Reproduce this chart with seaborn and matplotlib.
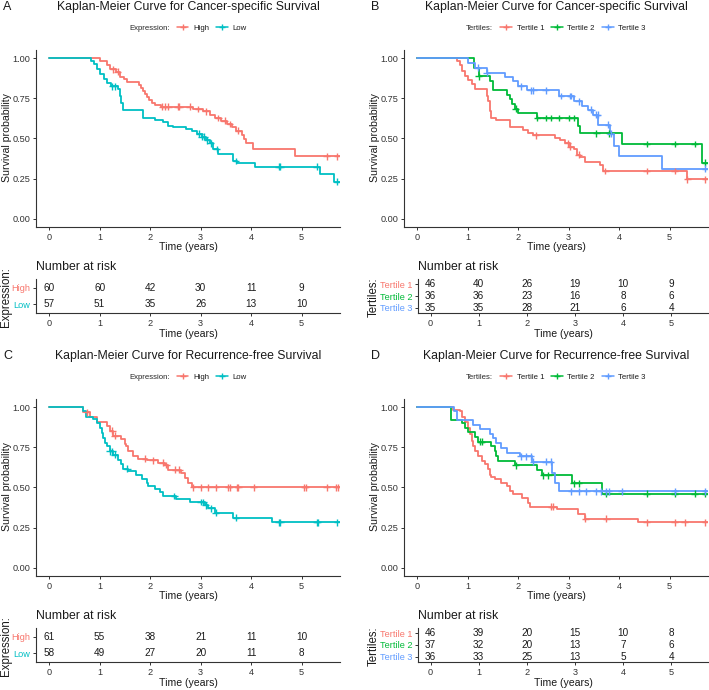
import numpy as np
import pandas as pd
import matplotlib
matplotlib.use("Agg")
import matplotlib.pyplot as plt
import seaborn as sns
from matplotlib.lines import Line2D

sns.set_style("ticks")
plt.rcParams["font.family"] = ["Liberation Sans", "DejaVu Sans"]

W, H = 709, 690
X_END = 5.76
risk_times = [0, 1, 2, 3, 4, 5]

expr_names = ["High", "Low"]
expr_colors = ["#F8766D", "#00BFC4"]
tert_names = ["Tertile 1", "Tertile 2", "Tertile 3"]
tert_colors = ["#F8766D", "#00BA38", "#619CFF"]

# ---- A: cancer-specific survival by expression (step times, survival after step, censor times)
a_high_t = [1.00, 1.14, 1.20, 1.32, 1.40, 1.48, 1.55, 1.78, 1.82, 1.86, 1.90, 1.94, 1.98, 2.04,
            2.10, 2.22, 2.85, 3.05, 3.18, 3.28, 3.40, 3.52, 3.62, 3.70, 3.82, 3.86, 3.89, 4.03, 4.87]
a_high_s = [0.983, 0.955, 0.93, 0.915, 0.885, 0.867, 0.85, 0.833, 0.813, 0.795, 0.775, 0.757, 0.738,
            0.72, 0.707, 0.697, 0.683, 0.668, 0.648, 0.628, 0.61, 0.59, 0.57, 0.548, 0.52, 0.495,
            0.47, 0.437, 0.39]
a_high_c = [1.27, 1.36, 2.24, 2.30, 2.36, 2.55, 2.58, 2.78, 2.95, 3.10, 3.35, 3.48, 3.58, 3.75,
            5.50, 5.70]
a_low_t = [0.82, 0.88, 0.94, 1.00, 1.08, 1.15, 1.22, 1.37, 1.40, 1.43, 1.47, 1.86, 2.09, 2.26,
           2.36, 2.46, 2.72, 2.82, 2.92, 3.02, 3.10, 3.18, 3.24, 3.35, 3.65, 3.72, 4.08, 5.36, 5.65]
a_low_s = [0.98, 0.963, 0.93, 0.90, 0.87, 0.845, 0.825, 0.805, 0.765, 0.72, 0.68, 0.63, 0.616,
           0.60, 0.58, 0.573, 0.56, 0.545, 0.53, 0.51, 0.49, 0.47, 0.435, 0.405, 0.36, 0.347,
           0.325, 0.277, 0.232]
a_low_c = [1.25, 1.30, 2.97, 3.02, 3.07, 3.13, 3.20, 3.32, 3.70, 4.55, 4.58, 5.30, 5.70]
a_risk = [[60, 60, 42, 30, 11, 9], [57, 51, 35, 26, 13, 10]]

# ---- B: cancer-specific survival by tertile
b_t1_t = [0.78, 0.85, 0.89, 0.95, 1.01, 1.08, 1.14, 1.38, 1.41, 1.44, 1.47, 1.57, 1.84, 2.10,
          2.20, 2.30, 2.73, 2.83, 2.93, 3.03, 3.10, 3.16, 3.22, 3.33, 3.62, 3.69, 5.34]
b_t1_s = [0.98, 0.955, 0.92, 0.887, 0.866, 0.836, 0.805, 0.764, 0.733, 0.67, 0.63, 0.615, 0.57,
          0.55, 0.535, 0.52, 0.505, 0.49, 0.47, 0.45, 0.435, 0.40, 0.384, 0.353, 0.333, 0.298,
          0.246]
b_t1_c = [2.35, 2.98, 3.03, 3.20, 3.73, 4.55, 5.10, 5.35, 5.70]
b_t2_t = [1.13, 1.22, 1.44, 1.51, 1.77, 1.84, 1.87, 1.94, 2.00, 2.37, 3.18, 3.23, 4.05, 5.64]
b_t2_s = [0.94, 0.886, 0.857, 0.80, 0.772, 0.743, 0.714, 0.686, 0.657, 0.627, 0.58, 0.533,
          0.466, 0.35]
b_t2_c = [1.22, 1.95, 2.38, 2.55, 2.65, 2.80, 3.00, 3.10, 3.55, 3.80, 4.55, 5.10, 5.50, 5.70]
b_t3_t = [1.01, 1.14, 1.38, 1.74, 1.90, 2.00, 2.17, 2.80, 3.10, 3.26, 3.39, 3.49, 3.59, 3.82,
          3.89, 3.99, 4.85]
b_t3_s = [0.97, 0.94, 0.91, 0.88, 0.856, 0.825, 0.80, 0.764, 0.73, 0.70, 0.68, 0.647, 0.585,
          0.53, 0.456, 0.39, 0.312]
b_t3_c = [1.20, 1.38, 2.05, 2.25, 2.30, 2.55, 2.85, 3.03, 3.05, 3.20, 3.45, 3.55, 3.58, 3.78,
          3.83, 5.70]
b_risk = [[46, 40, 26, 19, 10, 9], [36, 36, 23, 16, 8, 6], [35, 35, 28, 21, 6, 4]]

# ---- C: recurrence-free survival by expression
c_high_t = [0.67, 0.81, 0.94, 1.14, 1.20, 1.27, 1.43, 1.50, 1.53, 1.57, 1.66, 1.76, 1.93, 2.16,
            2.29, 2.36, 2.62, 2.69, 2.75, 2.82]
c_high_s = [0.967, 0.936, 0.905, 0.885, 0.853, 0.823, 0.80, 0.773, 0.757, 0.726, 0.695, 0.68,
            0.668, 0.654, 0.64, 0.61, 0.59, 0.56, 0.53, 0.50]
c_high_c = [0.75, 1.25, 1.30, 1.90, 2.05, 2.25, 2.32, 2.50, 2.58, 2.85, 3.00, 3.15, 3.30, 3.55,
            3.58, 3.72, 3.75, 4.05, 5.05, 5.08, 5.50, 5.68, 5.72]
c_low_t = [0.67, 0.74, 0.87, 0.94, 1.00, 1.04, 1.07, 1.10, 1.14, 1.20, 1.27, 1.37, 1.43, 1.47,
           1.57, 1.73, 1.83, 1.93, 1.96, 2.09, 2.19, 2.26, 2.52, 2.79, 3.08, 3.15, 3.28, 3.65, 4.41]
c_low_s = [0.973, 0.94, 0.926, 0.90, 0.87, 0.84, 0.81, 0.777, 0.757, 0.726, 0.705, 0.674, 0.643,
           0.617, 0.60, 0.58, 0.555, 0.53, 0.51, 0.49, 0.47, 0.447, 0.43, 0.41, 0.39, 0.37, 0.344,
           0.313, 0.283]
c_low_c = [1.20, 1.25, 1.30, 1.55, 2.48, 3.00, 3.05, 3.10, 3.20, 3.30, 3.70, 4.55, 4.58, 5.30,
           5.32, 5.70]
c_risk = [[61, 55, 38, 21, 11, 10], [58, 49, 27, 20, 11, 8]]

# ---- D: recurrence-free survival by tertile
d_t1_t = [0.71, 0.85, 0.88, 0.95, 1.01, 1.04, 1.08, 1.11, 1.14, 1.21, 1.28, 1.34, 1.41, 1.44,
          1.47, 1.54, 1.67, 1.77, 1.84, 1.90, 2.07, 2.20, 2.24, 2.76, 3.19, 3.33, 4.38]
d_t1_s = [0.983, 0.973, 0.94, 0.91, 0.87, 0.83, 0.79, 0.757, 0.726, 0.695, 0.664, 0.643, 0.612,
          0.58, 0.567, 0.55, 0.53, 0.51, 0.478, 0.457, 0.437, 0.406, 0.38, 0.365, 0.334, 0.307,
          0.283]
d_t1_c = [2.65, 2.70, 3.33, 3.75, 4.55, 5.10, 5.30, 5.70]
d_t2_t = [0.68, 0.88, 0.95, 1.01, 1.14, 1.21, 1.47, 1.54, 1.57, 1.61, 1.94, 2.37, 2.47, 3.06, 3.66]
d_t2_s = [0.92, 0.90, 0.87, 0.843, 0.814, 0.784, 0.757, 0.726, 0.695, 0.664, 0.637, 0.608, 0.575,
          0.526, 0.462]
d_t2_c = [1.25, 1.28, 1.95, 2.50, 2.60, 3.10, 3.20, 3.75, 4.55, 5.10, 5.50, 5.70]
d_t3_t = [0.73, 0.78, 1.11, 1.24, 1.44, 1.51, 1.57, 1.67, 1.77, 2.04, 2.27, 2.67, 2.73, 2.80]
d_t3_s = [0.973, 0.92, 0.89, 0.864, 0.835, 0.808, 0.777, 0.746, 0.715, 0.695, 0.66, 0.59, 0.53,
          0.476]
d_t3_c = [2.05, 2.15, 2.25, 2.30, 2.55, 2.65, 3.05, 3.20, 3.35, 3.55, 3.65, 3.75, 3.80, 4.05,
          5.10, 5.70]
d_risk = [[46, 39, 20, 15, 10, 8], [37, 32, 20, 13, 7, 6], [36, 33, 25, 13, 5, 4]]

TXT = "#1a1a1a"
TICK = "#333333"


def box(l, t, r, b):
    return [l / W, 1 - b / H, (r - l) / W, (b - t) / H]


def ftext(fig, x, y, s, **kw):
    fig.text(x / W, 1 - y / H, s, **kw)


def surv_at(tt, ss, c):
    i = np.searchsorted(tt, c, side="right") - 1
    return 1.0 if i < 0 else ss[i]


def style_axis(ax):
    sns.despine(ax=ax)
    for sp in ["left", "bottom"]:
        ax.spines[sp].set_linewidth(0.8)
        ax.spines[sp].set_color(TICK)
    ax.tick_params(length=2.5, width=0.7, pad=1.5, labelsize=6.6, color=TICK, labelcolor=TICK)
    ax.set_xlabel("")
    ax.set_ylabel("")


def panel(fig, dx, dy, letter, title, leg_title, names, colors, curves, risk):
    n = len(names)
    pal = dict(zip(names, colors))
    cx = 188 + dx

    ax = fig.add_axes(box(36 + dx, 50 + dy, 340 + dx, 227 + dy))
    lines, marks = [], []
    for name, (tt, ss, cc) in zip(names, curves):
        lines.append(pd.DataFrame({"time": [0.0] + tt + [X_END],
                                   "surv": [1.0] + ss + [ss[-1]], "group": name}))
        marks.append(pd.DataFrame({"time": cc, "surv": [surv_at(tt, ss, c) for c in cc],
                                   "group": name}))
    ldf = pd.concat(lines, ignore_index=True)
    mdf = pd.concat(marks, ignore_index=True)
    sns.lineplot(data=ldf, x="time", y="surv", hue="group", palette=pal, estimator=None,
                 sort=False, drawstyle="steps-post", linewidth=1.3, legend=False, ax=ax)
    sns.scatterplot(data=mdf, x="time", y="surv", hue="group", palette=pal, marker="+", s=24,
                    linewidth=1.0, legend=False, ax=ax, zorder=3)
    ax.set_xlim(-0.26, X_END)
    ax.set_ylim(-0.05, 1.05)
    ax.set_xticks(risk_times)
    ax.set_yticks([0, 0.25, 0.5, 0.75, 1.0])
    ax.set_yticklabels(["0.00", "0.25", "0.50", "0.75", "1.00"])
    style_axis(ax)

    # legend with the title inline, like ggplot's top legend
    handles = [Line2D([], [], color=c, lw=1.1, marker="+", markersize=4.5, markeredgewidth=1.0)
               for c in colors]
    leg = ax.legend(handles, names, title=leg_title, ncol=n, loc="center",
                    bbox_to_anchor=(cx / W, 1 - (28 + dy) / H), bbox_transform=fig.transFigure,
                    frameon=False, fontsize=5.6, title_fontsize=5.6, handlelength=1.5,
                    handletextpad=0.6, columnspacing=0.9, borderpad=0, borderaxespad=0)
    vbox = leg._legend_box
    title_box, hbox = vbox.get_children()
    vbox._children = [hbox]
    hbox._children.insert(0, title_box)
    for t in leg.get_texts():
        t.set_color(TXT)

    ftext(fig, 3 + dx, 7 + dy, letter, fontsize=9, ha="left", va="center", color=TXT)
    ftext(fig, cx, 7 + dy, title, fontsize=8.8, ha="center", va="center", color=TXT)
    ftext(fig, 7 + dx, 138 + dy, "Survival probability", fontsize=7.6, rotation=90,
          ha="center", va="center", color=TXT)
    ftext(fig, cx, 247 + dy, "Time (years)", fontsize=7.6, ha="center", va="center", color=TXT)

    # risk table
    rl = 36 if n == 2 else 50
    rax = fig.add_axes(box(rl + dx, 279 + dy, 340 + dx, 313 + dy))
    m = 0.56 if n == 2 else 0.45
    for i, counts in enumerate(risk):
        for t, c in zip(risk_times, counts):
            rax.text(t, i + 1, str(c), ha="center", va="center", fontsize=7.2, color=TXT)
    rax.set_xlim(-0.26, X_END)
    rax.set_ylim(n + m, 1 - m)
    rax.set_xticks(risk_times)
    rax.set_yticks(range(1, n + 1))
    rax.set_yticklabels(names)
    style_axis(rax)
    for lab, c in zip(rax.get_yticklabels(), colors):
        lab.set_color(c)
        lab.set_fontsize(6.6)
    ftext(fig, rl + dx, 267 + dy, "Number at risk", fontsize=8.8, ha="left", va="center",
          color=TXT)
    ftext(fig, 6 + dx, 297 + dy, leg_title, fontsize=8.3, rotation=90, ha="center",
          va="center", color=TXT)
    ftext(fig, (rl + 340) / 2 + dx, 334 + dy, "Time (years)", fontsize=7.6, ha="center",
          va="center", color=TXT)


fig = plt.figure(figsize=(W / 100, H / 100), dpi=100)

panel(fig, 0, 0, "A", "Kaplan-Meier Curve for Cancer-specific Survival", "Expression:",
      expr_names, expr_colors,
      [(a_high_t, a_high_s, a_high_c), (a_low_t, a_low_s, a_low_c)], a_risk)
panel(fig, 368, 0, "B", "Kaplan-Meier Curve for Cancer-specific Survival", "Tertiles:",
      tert_names, tert_colors,
      [(b_t1_t, b_t1_s, b_t1_c), (b_t2_t, b_t2_s, b_t2_c), (b_t3_t, b_t3_s, b_t3_c)], b_risk)
panel(fig, 0, 349, "C", "Kaplan-Meier Curve for Recurrence-free Survival", "Expression:",
      expr_names, expr_colors,
      [(c_high_t, c_high_s, c_high_c), (c_low_t, c_low_s, c_low_c)], c_risk)
panel(fig, 368, 349, "D", "Kaplan-Meier Curve for Recurrence-free Survival", "Tertiles:",
      tert_names, tert_colors,
      [(d_t1_t, d_t1_s, d_t1_c), (d_t2_t, d_t2_s, d_t2_c), (d_t3_t, d_t3_s, d_t3_c)], d_risk)

fig.savefig("out.png", dpi=100)
